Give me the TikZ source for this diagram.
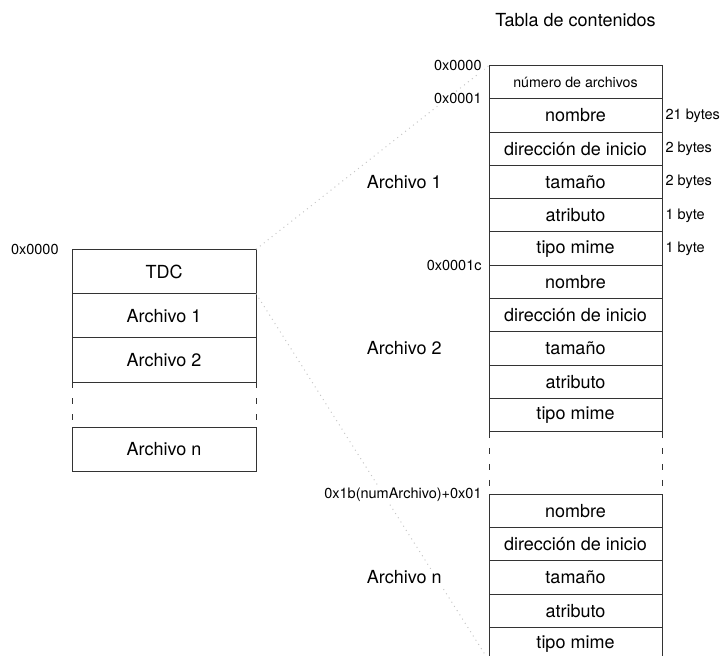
\documentclass[tikz,border=0pt]{standalone}
\usepackage{fontspec}
\setmainfont{TeX Gyre Heros}
\usetikzlibrary{positioning}

\begin{document}
\begin{tikzpicture}[x=0.5pt, y=-0.5pt,
    campo/.style={draw=black!80, line width=0.5pt, minimum width=86.5pt, minimum height=16.65pt,
                  inner sep=0pt, outer sep=0pt, font=\fontsize{9}{10}\selectfont},
    bloque/.style={draw=black!80, line width=0.5pt, minimum width=92pt, minimum height=22.15pt,
                  inner sep=0pt, outer sep=0pt, font=\fontsize{9}{10}\selectfont},
    direccion/.style={fill=white, inner sep=1pt, font=\fontsize{7.25}{8}\selectfont},
    tam/.style={inner sep=1pt, font=\fontsize{7.25}{8}\selectfont},
    grupo/.style={fill=white, inner sep=1pt, font=\fontsize{9}{10}\selectfont},
    hueco/.style={draw=black!80, line width=0.5pt, dash pattern=on 3pt off 5pt},
    lupa/.style={gray!45, line width=0.5pt, dotted}]

    \useasboundingbox (0,0) rectangle (723,656);

    % disco
    \node (l0) [bloque, anchor=north] at (164,249.3) {TDC};
    \node (l1) [bloque, below=0pt of l0] {Archivo 1};
    \node (l2) [bloque, below=0pt of l1] {Archivo 2};
    \node (ln) [bloque, below=22.5pt of l2] {Archivo n};
    \draw[hueco] (l2.south west) -- (ln.north west);
    \draw[hueco] (l2.south east) -- (ln.north east);

    % tabla de contenidos
    \node (titulo) at (575.5,20) [font=\fontsize{9}{10}\selectfont] {Tabla de contenidos};
    \node (t0) [campo, anchor=north, font=\fontsize{7.1}{8}\selectfont] at (575.5,65.5) {número de archivos};
    \node (t1) [campo, below=0pt of t0] {nombre};
    \node (t2) [campo, below=0pt of t1] {dirección de inicio};
    \node (t3) [campo, below=0pt of t2] {tamaño};
    \node (t4) [campo, below=0pt of t3] {atributo};
    \node (t5) [campo, below=0pt of t4] {tipo mime};
    \node (t6) [campo, below=0pt of t5] {nombre};
    \node (t7) [campo, below=0pt of t6] {dirección de inicio};
    \node (t8) [campo, below=0pt of t7] {tamaño};
    \node (t9) [campo, below=0pt of t8] {atributo};
    \node (t10) [campo, below=0pt of t9] {tipo mime};
    \node (t11) [campo, below=31.25pt of t10] {nombre};
    \node (t12) [campo, below=0pt of t11] {dirección de inicio};
    \node (t13) [campo, below=0pt of t12] {tamaño};
    \node (t14) [campo, below=0pt of t13] {atributo};
    \node (t15) [campo, below=0pt of t14] {tipo mime};
    \draw[hueco] (t10.south west) -- (t11.north west);
    \draw[hueco] (t10.south east) -- (t11.north east);

    % lineas de ampliacion
    \draw[lupa] (l0.north east) -- (t0.north west);
    \draw[lupa] (l0.south east) -- (t15.south west);

    % direcciones
    \node (d00) [direccion, left=5.5pt of l0.north west] {0x0000};
    \node (d0) [direccion, left=2.5pt of t0.north west] {0x0000};
    \node (d1) [direccion, left=2.5pt of t1.north west] {0x0001};
    \node (d6) [direccion, left=2.5pt of t6.north west] {0x0001c};
    \node (d11) [direccion, left=2.5pt of t11.north west] {0x1b(numArchivo)+0x01};

    % tamanos
    \node (s1) [tam, right=0.6pt of t1.east] {21 bytes};
    \node (s2) [tam, right=0.6pt of t2.east] {2 bytes};
    \node (s3) [tam, right=0.6pt of t3.east] {2 bytes};
    \node (s4) [tam, right=0.6pt of t4.east] {1 byte};
    \node (s5) [tam, right=0.6pt of t5.east] {1 byte};

    \node (g1) [grupo, left=22.5pt of t3.west] {Archivo 1};
    \node (g2) [grupo, left=22.5pt of t8.west] {Archivo 2};
    \node (gn) [grupo, left=22.5pt of t13.west] {Archivo n};
\end{tikzpicture}
\end{document}
